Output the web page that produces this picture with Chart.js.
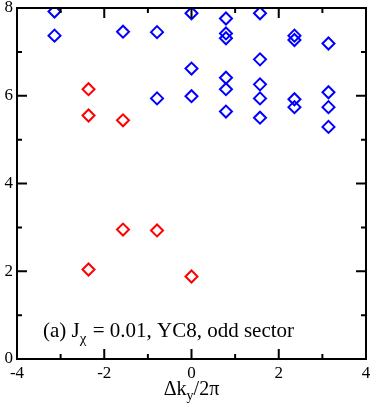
<!DOCTYPE html>
<html>
<head>
<meta charset="utf-8">
<script src="https://cdn.jsdelivr.net/npm/chart.js@4"></script>
<style>
  html, body { margin: 0; padding: 0; background: #fff; }
  #wrap { width: 374px; height: 407px; }
</style>
</head>
<body>
<div id="wrap"><canvas id="plot"></canvas></div>
<script>
// Δk_y/2π positions and energies
const blueX = [-3.14, -3.14, -1.57, -0.79, -0.79, 0, 0, 0,
  0.79, 0.79, 0.79, 0.79, 0.79, 0.79,
  1.57, 1.57, 1.57, 1.57, 1.57,
  2.36, 2.36, 2.36, 2.36,
  3.14, 3.14, 3.14, 3.14];
const blueY = [7.92, 7.37, 7.46, 7.45, 5.94, 7.88, 6.62, 5.99,
  7.76, 7.42, 7.31, 6.41, 6.15, 5.64,
  7.88, 6.83, 6.26, 5.94, 5.50,
  7.37, 7.27, 5.92, 5.74,
  7.19, 6.08, 5.74, 5.29];
const redX = [-2.36, -2.36, -2.36, -1.57, -1.57, -0.79, 0];
const redY = [6.15, 5.55, 2.04, 5.44, 2.95, 2.93, 1.88];

const xLabels = [-4, -2, 0, 2, 4];
const yLabels = [0, 2, 4, 6, 8];

const serif = "'Liberation Serif', 'Times New Roman', serif";

function pts(xs, ys) {
  return xs.map((x, i) => ({ x: x, y: ys[i] }));
}

// frame with inward ticks on all four sides, like the original plot
const frame = {
  id: 'frame',
  afterDraw(chart) {
    const { ctx, chartArea: a, scales } = chart;
    ctx.save();
    ctx.strokeStyle = '#000';
    ctx.lineWidth = 2;
    ctx.strokeRect(a.left, a.top, a.right - a.left, a.bottom - a.top);
    ctx.beginPath();
    for (let v = -4; v <= 4; v++) {
      const px = scales.x.getPixelForValue(v);
      const len = xLabels.includes(v) ? 10 : 5;
      ctx.moveTo(px, a.bottom); ctx.lineTo(px, a.bottom - len);
      ctx.moveTo(px, a.top); ctx.lineTo(px, a.top + len);
    }
    for (let v = 0; v <= 8; v++) {
      const py = scales.y.getPixelForValue(v);
      const len = yLabels.includes(v) ? 10 : 5;
      ctx.moveTo(a.left, py); ctx.lineTo(a.left + len, py);
      ctx.moveTo(a.right, py); ctx.lineTo(a.right - len, py);
    }
    ctx.stroke();

    // labels with subscripts
    ctx.fillStyle = '#000';
    ctx.textBaseline = 'alphabetic';
    ctx.textAlign = 'left';

    let big = '21px ' + serif, small = '15px ' + serif;
    let x = a.left + 26, y = 337;
    ctx.font = big; ctx.fillText('(a) J', x, y); x += ctx.measureText('(a) J').width;
    ctx.font = small; ctx.fillText('\u03c7', x, y + 6); x += ctx.measureText('\u03c7').width + 1;
    ctx.font = big; ctx.fillText(' = 0.01, YC8, odd sector', x, y);

    big = '20px ' + serif; small = '14px ' + serif;
    const cx = scales.x.getPixelForValue(0);
    const parts = [['\u0394k', big, 0], ['y', small, 5], ['/2\u03c0', big, 0]];
    let w = 0;
    parts.forEach(p => { ctx.font = p[1]; w += ctx.measureText(p[0]).width; });
    x = cx - w / 2; y = 395;
    parts.forEach(p => {
      ctx.font = p[1];
      ctx.fillText(p[0], x, y + p[2]);
      x += ctx.measureText(p[0]).width;
    });
    ctx.restore();
  }
};

new Chart(document.getElementById('plot'), {
  type: 'scatter',
  data: {
    datasets: [
      {
        data: pts(blueX, blueY),
        borderColor: '#0000ff',
        backgroundColor: 'rgba(0,0,0,0)',
        pointStyle: 'rectRot',
        pointRadius: 6,
        borderWidth: 2
      },
      {
        data: pts(redX, redY),
        borderColor: '#ff0000',
        backgroundColor: 'rgba(0,0,0,0)',
        pointStyle: 'rectRot',
        pointRadius: 6,
        borderWidth: 2
      }
    ]
  },
  options: {
    responsive: true,
    maintainAspectRatio: false,
    animation: false,
    layout: { padding: { left: 0, right: 5, top: 8, bottom: 0 } },
    plugins: { legend: { display: false }, tooltip: { enabled: false } },
    scales: {
      x: {
        min: -4, max: 4,
        grid: { display: false, drawTicks: false },
        border: { display: false },
        ticks: {
          stepSize: 2,
          padding: 6,
          color: '#000',
          font: { family: serif, size: 17, lineHeight: 1 },
          maxRotation: 0,
          callback: v => xLabels.includes(v) ? String(v) : ''
        },
        afterFit(s) { s.height = 48; s.paddingLeft = 0; s.paddingRight = 0; }
      },
      y: {
        min: 0, max: 8,
        grid: { display: false, drawTicks: false },
        border: { display: false },
        ticks: {
          stepSize: 2,
          padding: 4,
          color: '#000',
          font: { family: serif, size: 17, lineHeight: 1 },
          callback: v => yLabels.includes(v) ? String(v) : ''
        },
        afterFit(s) { s.width = 17; s.paddingTop = 0; s.paddingBottom = 0; }
      }
    }
  },
  plugins: [frame]
});
</script>
</body>
</html>
